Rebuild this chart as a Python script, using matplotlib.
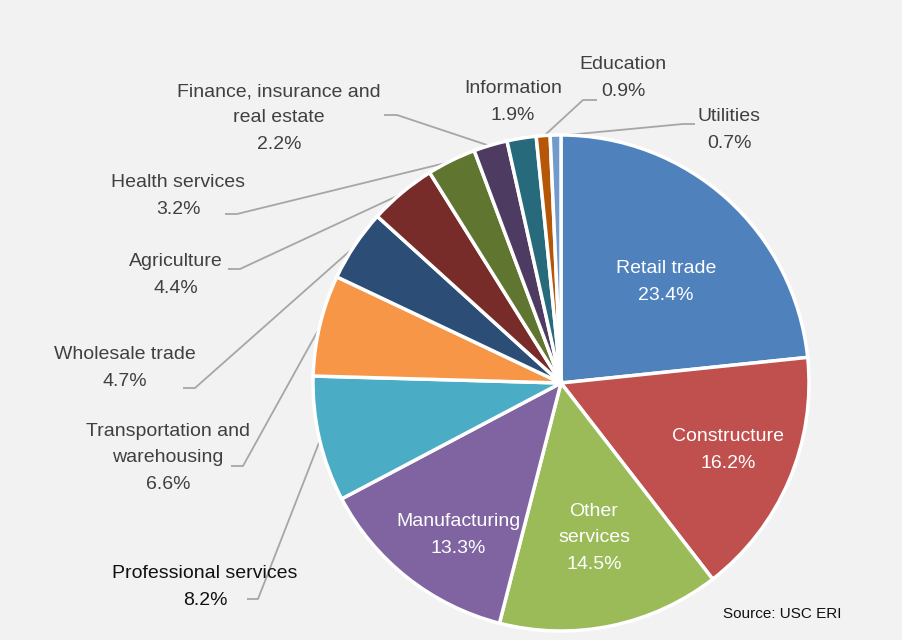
import numpy as np
import matplotlib.pyplot as plt

plt.rcParams['font.family'] = ['Liberation Sans', 'DejaVu Sans']

# data, clockwise from 12 o'clock
sectors = ['Retail trade', 'Constructure', 'Other\nservices', 'Manufacturing',
           'Professional services', 'Transportation and\nwarehousing',
           'Wholesale trade', 'Agriculture', 'Health services',
           'Finance, insurance and\nreal estate', 'Information', 'Education',
           'Utilities']
shares = [23.4, 16.2, 14.5, 13.3, 8.2, 6.6, 4.7, 4.4, 3.2, 2.2, 1.9, 0.9, 0.7]
colors = ['#4F81BD', '#C0504D', '#9BBB59', '#8064A2', '#4BACC6', '#F79646',
          '#2C4D75', '#772C2A', '#5F7530', '#4D3B62', '#276A7C', '#B65708',
          '#729ACA']

W, H = 902, 640
BG = '#F2F2F2'

# label layout in pixel coords (x, y from top), inside=True -> white text
label_pos = [(666, 282), (728, 450), (594, 538), (458, 535), (205, 587),
             (168, 458), (125, 368), (176, 275), (178, 196), (279, 118),
             (513, 102), (623, 78), (729, 130)]
inside = [True, True, True, True] + [False] * 9
# leader lines: (text end x, elbow x, y) in pixels, None = no leader
leaders = [None, None, None, None,
           (247, 258, 599), (231, 243, 466), (183, 195, 388), (228, 240, 269),
           (225, 237, 214), (384, 397, 115), None, (597, 583, 100),
           (695, 683, 124)]

fig = plt.figure(figsize=(W / 100, H / 100), dpi=100, facecolor=BG)
ax = fig.add_axes([0, 0, 1, 1])
ax.set_facecolor(BG)

cx, cy, R = 561, H - 383, 248
wedges, _ = ax.pie(shares, colors=colors, startangle=90, counterclock=False,
                   center=(cx, cy), radius=R,
                   wedgeprops=dict(edgecolor='white', linewidth=2.5))

for i, w in enumerate(wedges):
    txt = sectors[i] + '\n' + ('%.1f%%' % shares[i])
    px, py = label_pos[i]
    if inside[i]:
        col = 'white'
    elif sectors[i] == 'Professional services':
        col = '#111111'
    else:
        col = '#404040'
    ax.text(px, H - py, txt, ha='center', va='center', fontsize=14,
            color=col, linespacing=1.72)
    if leaders[i] is not None:
        tx, ex, ey = leaders[i]
        mid = np.deg2rad((w.theta1 + w.theta2) / 2)
        edge_x = cx + (R - 1) * np.cos(mid)
        edge_y = cy + (R - 1) * np.sin(mid)
        ax.plot([tx, ex, edge_x], [H - ey, H - ey, edge_y], color='#A6A6A6',
                lw=1.3, solid_capstyle='butt', zorder=0.5)

ax.text(723, H - 614, 'Source: USC ERI', ha='left', va='center', fontsize=11,
        color='#111111')

ax.set_xlim(0, W)
ax.set_ylim(0, H)
ax.set_aspect('equal')
ax.axis('off')

fig.savefig('out.png', dpi=100, facecolor=BG)
